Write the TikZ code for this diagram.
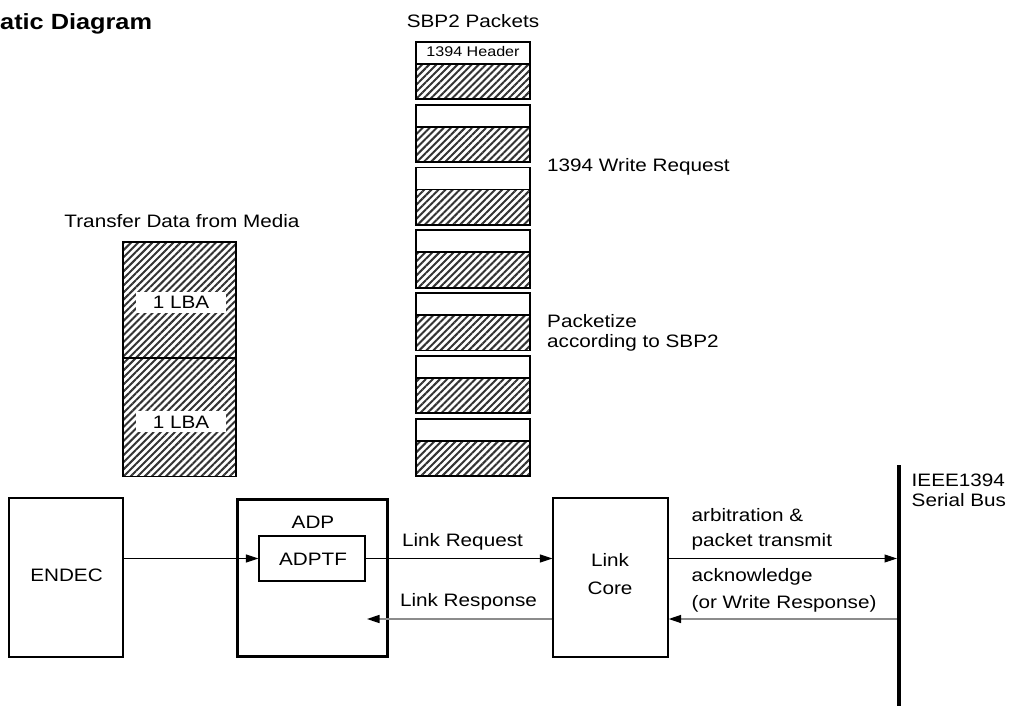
\documentclass[tikz,border=0pt]{standalone}
\usepackage{fontspec}
\setmainfont{Liberation Sans}[FakeStretch=1.15]
\usetikzlibrary{arrows.meta,patterns.meta}
\begin{document}
\begin{tikzpicture}[x=1pt,y=-1pt,
  txt/.style={inner sep=0pt, anchor=base, font=\fontsize{18}{22}\selectfont},
  txtl/.style={txt, anchor=base west},
  blk/.style={draw, line width=1.3pt, inner sep=0pt, minimum height=159pt},
  hatch/.style={pattern={Lines[angle=45,distance=5pt,line width=2pt]}, pattern color=black!80},
  pkt/.style={line width=1.8pt},
  tip/.style={-{Triangle[length=12.5pt,width=8pt,color=black]}},
  fwd/.style={tip, line width=1pt},
  back/.style={tip, line width=1.6pt, draw=black!45},
]
\fill[white] (0,0) rectangle (1012,706);
\useasboundingbox (0,0) rectangle (1012,706);

% title
\node[inner sep=0pt, anchor=base west, font=\bfseries\fontsize{22}{26}\selectfont] (title) at (0,30) {atic Diagram};

% SBP2 packets
\node[txt] (sbp2) at (473,28) {SBP2 Packets};
\foreach \i in {0,...,6}{
  \pgfmathsetmacro\t{42+\i*62.78}
  \fill[hatch] (416,{\t+22}) rectangle (530,{\t+57.3});
  \draw[pkt] (416,\t) rectangle (530,{\t+57.3});
  \draw[pkt] (416,{\t+22}) -- (530,{\t+22});
}
\node[txt, font=\fontsize{14}{16}\selectfont] (hdr) at (473,57) {1394 Header};
\node[txtl] (wreq) at (547,171.5) {1394 Write Request};
\node[txtl] (pk1) at (547,327) {Packetize};
\node[txtl] (pk2) at (547,347) {according to SBP2};

% transfer data
\node[txt] (tdm) at (182,227.5) {Transfer Data from Media};
\fill[hatch] (123,242) rectangle (236,476.5);
\draw[line width=1.5pt] (123,242) rectangle (236,476.5);
\draw[line width=1.5pt] (123,358) -- (236,358);
\node[fill=white, inner sep=0pt, minimum width=90pt, minimum height=21pt] (lba1) at (181,302.5) {};
\node[txt] (lba1t) at (181,308.5) {1 LBA};
\node[fill=white, inner sep=0pt, minimum width=90pt, minimum height=21pt] (lba2) at (181,421.7) {};
\node[txt] (lba2t) at (181,428) {1 LBA};

% blocks
\node[blk, minimum width=114pt] (endec) at (66,577.5) {};
\node[txt] (endect) at (66.5,581.5) {ENDEC};
\node[blk, line width=3pt, minimum width=150pt, minimum height=157pt] (adp) at (312,577.5) {};
\node[txt] (adpt) at (313,528) {ADP};
\node[draw, line width=1.3pt, inner sep=0pt, minimum width=106pt, minimum height=45pt] (adptf) at (312,558.5) {};
\node[txt] (adptft) at (313,565) {ADPTF};
\node[blk, minimum width=115pt] (core) at (610.5,577.5) {};
\node[txt] (core1) at (610,566.5) {Link};
\node[txt] (core2) at (610,594) {Core};

% bus
\coordinate (bustop) at (899,465);
\coordinate (busbot) at (899,706);
\draw[line width=4pt] (bustop) -- (busbot);
\node[txtl] (ieee1) at (911.5,486) {IEEE1394};
\node[txtl] (ieee2) at (911.5,506) {Serial Bus};

% connectors
\draw[fwd] (endec.east |- adptf) -- (adptf.west);
\draw[fwd] (adptf.east) -- (core.west |- adptf);
\coordinate (lrend) at (367,619);
\draw[back] (core.west |- lrend) -- (lrend);
\coordinate (busin) at (897,558.5);
\coordinate (busout) at (897,619);
\draw[fwd] (core.east |- busin) -- (busin);
\draw[back] (busout) -- (core.east |- busout);

% labels
\node[txt] (lreq) at (462.5,546.5) {Link Request};
\node[txt] (lresp) at (468.5,606.5) {Link Response};
\node[txtl] (arb1) at (691.5,521.5) {arbitration \&};
\node[txtl] (arb2) at (691.5,546.5) {packet transmit};
\node[txtl] (ack1) at (691.5,581.5) {acknowledge};
\node[txtl] (ack2) at (691.5,608) {(or Write Response)};
\end{tikzpicture}
\end{document}
